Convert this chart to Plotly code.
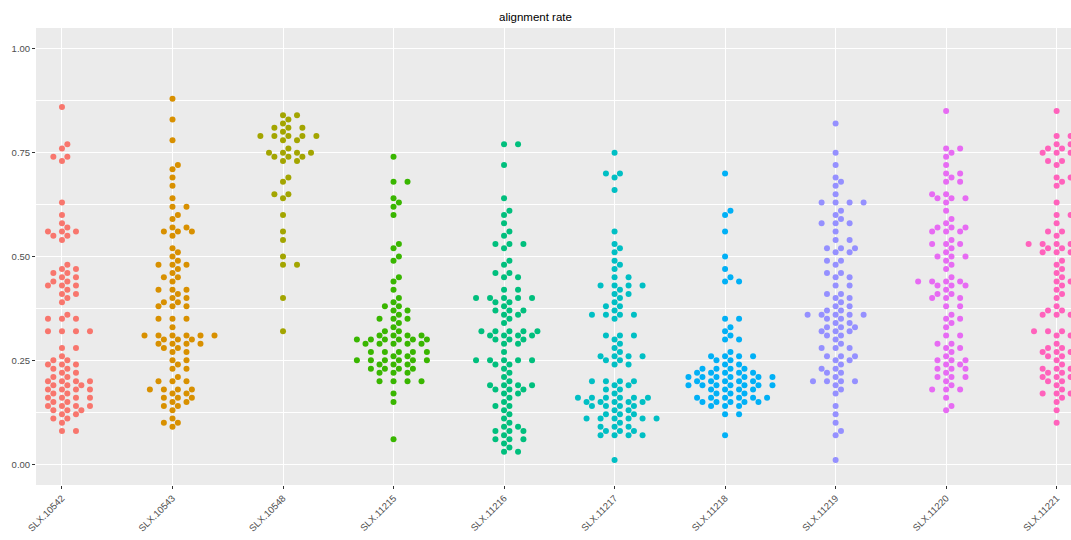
import numpy as np
import plotly.graph_objects as go

categories = ["SLX.10542", "SLX.10543", "SLX.10548", "SLX.11215", "SLX.11216",
              "SLX.11217", "SLX.11218", "SLX.11219", "SLX.11220", "SLX.11221"]
colors = ["#F8766D", "#D89000", "#A3A500", "#39B600", "#00BF7D",
          "#00BFC4", "#00B0F6", "#9590FF", "#E76BF3", "#FF62BC"]

slx_10542 = [0.86, 0.77, 0.76, 0.74, 0.74, 0.73, 0.63, 0.60, 0.58, 0.57, 0.56, 0.56, 0.56,
             0.55, 0.55, 0.54, 0.48, 0.47, 0.47, 0.46, 0.46, 0.45, 0.45, 0.44, 0.44,
             0.43, 0.43, 0.43, 0.42, 0.41, 0.41, 0.40, 0.39, 0.36, 0.35, 0.35, 0.35,
             0.32, 0.32, 0.32, 0.32, 0.28, 0.28, 0.26, 0.25, 0.25, 0.24, 0.24, 0.24,
             0.23, 0.23, 0.22, 0.22, 0.21, 0.21, 0.20, 0.20, 0.20, 0.20, 0.19, 0.19, 0.19,
             0.18, 0.18, 0.18, 0.18, 0.17, 0.17, 0.16, 0.16, 0.16, 0.16, 0.15, 0.15,
             0.14, 0.14, 0.14, 0.14, 0.13, 0.13, 0.13, 0.12, 0.12, 0.11, 0.11, 0.10,
             0.08, 0.08]
slx_10543 = [0.88, 0.83, 0.78, 0.72, 0.71, 0.69, 0.67, 0.64, 0.62, 0.62, 0.60, 0.59, 0.57,
             0.57, 0.56, 0.56, 0.56, 0.55, 0.52, 0.51, 0.50, 0.49, 0.48, 0.48, 0.48, 0.47,
             0.46, 0.45, 0.45, 0.44, 0.42, 0.42, 0.42, 0.41, 0.40, 0.40, 0.39, 0.39,
             0.38, 0.38, 0.38, 0.35, 0.35, 0.35, 0.33, 0.31, 0.31, 0.31, 0.31, 0.31, 0.31,
             0.30, 0.30, 0.30, 0.29, 0.29, 0.29, 0.29, 0.28, 0.28, 0.27, 0.27, 0.25, 0.25,
             0.24, 0.23, 0.23, 0.21, 0.20, 0.20, 0.20, 0.18, 0.18, 0.18, 0.18, 0.17, 0.17,
             0.16, 0.16, 0.16, 0.15, 0.15, 0.14, 0.14, 0.13, 0.11, 0.10, 0.10, 0.09]
slx_10548 = [0.84, 0.84, 0.83, 0.82, 0.81, 0.81, 0.81, 0.80, 0.79, 0.79, 0.79, 0.79, 0.79,
             0.78, 0.78, 0.76, 0.75, 0.75, 0.75, 0.75, 0.74, 0.74, 0.74, 0.73, 0.73,
             0.69, 0.68, 0.65, 0.65, 0.64, 0.60, 0.56, 0.54, 0.50, 0.48, 0.48, 0.40, 0.32]
slx_11215 = [0.74, 0.68, 0.68, 0.64, 0.63, 0.62, 0.60, 0.53, 0.52, 0.50, 0.49, 0.45, 0.44,
             0.42, 0.40, 0.39, 0.38, 0.38, 0.37, 0.37, 0.36, 0.35, 0.35, 0.35, 0.34, 0.33,
             0.32, 0.32, 0.31, 0.31, 0.31, 0.31, 0.30, 0.30, 0.30, 0.30, 0.30, 0.30,
             0.29, 0.29, 0.29, 0.29, 0.29, 0.27, 0.27, 0.27, 0.27, 0.27, 0.26, 0.26,
             0.25, 0.25, 0.25, 0.25, 0.25, 0.25, 0.24, 0.24, 0.24, 0.23, 0.23, 0.23, 0.23,
             0.22, 0.22, 0.22, 0.20, 0.20, 0.20, 0.20, 0.17, 0.15, 0.06]
slx_11216 = [0.77, 0.77, 0.72, 0.64, 0.61, 0.60, 0.58, 0.56, 0.55, 0.53, 0.53, 0.53, 0.52,
             0.49, 0.48, 0.46, 0.46, 0.45, 0.45, 0.42, 0.42, 0.40, 0.40, 0.40, 0.40, 0.40,
             0.39, 0.39, 0.38, 0.37, 0.37, 0.37, 0.36, 0.36, 0.35, 0.34, 0.32, 0.32, 0.32,
             0.32, 0.32, 0.31, 0.31, 0.31, 0.31, 0.30, 0.30, 0.30, 0.29, 0.29, 0.27,
             0.25, 0.25, 0.25, 0.25, 0.25, 0.24, 0.24, 0.23, 0.22, 0.21, 0.20, 0.19, 0.19,
             0.19, 0.19, 0.18, 0.18, 0.18, 0.17, 0.17, 0.16, 0.15, 0.14, 0.14, 0.13, 0.12,
             0.11, 0.10, 0.09, 0.09, 0.08, 0.08, 0.08, 0.07, 0.06, 0.06, 0.06, 0.05, 0.04,
             0.03, 0.03]
slx_11217 = [0.75, 0.70, 0.70, 0.69, 0.66, 0.56, 0.53, 0.52, 0.51, 0.49, 0.48, 0.47, 0.45,
             0.45, 0.43, 0.43, 0.43, 0.43, 0.42, 0.41, 0.41, 0.40, 0.39, 0.38, 0.38, 0.37,
             0.36, 0.36, 0.36, 0.36, 0.35, 0.31, 0.31, 0.31, 0.30, 0.29, 0.28, 0.27,
             0.26, 0.26, 0.26, 0.26, 0.25, 0.25, 0.24, 0.24, 0.20, 0.20, 0.20, 0.20,
             0.19, 0.19, 0.18, 0.18, 0.17, 0.16, 0.16, 0.16, 0.16, 0.16, 0.16, 0.15, 0.15,
             0.15, 0.15, 0.15, 0.14, 0.14, 0.14, 0.14, 0.13, 0.13, 0.12, 0.12, 0.12,
             0.11, 0.11, 0.11, 0.11, 0.11, 0.11, 0.10, 0.09, 0.09, 0.09, 0.08, 0.08, 0.08,
             0.07, 0.07, 0.07, 0.07, 0.01]
slx_11218 = [0.70, 0.61, 0.60, 0.56, 0.50, 0.47, 0.45, 0.44, 0.44, 0.35, 0.35, 0.33, 0.32,
             0.31, 0.30, 0.30, 0.27, 0.26, 0.26, 0.26, 0.26, 0.25, 0.25, 0.24, 0.24,
             0.23, 0.23, 0.23, 0.23, 0.22, 0.22, 0.22, 0.22, 0.22, 0.21, 0.21, 0.21, 0.21,
             0.21, 0.21, 0.21, 0.20, 0.20, 0.20, 0.20, 0.20, 0.19, 0.19, 0.19, 0.19, 0.19,
             0.19, 0.19, 0.18, 0.18, 0.18, 0.18, 0.17, 0.17, 0.17, 0.16, 0.16, 0.16, 0.16,
             0.16, 0.16, 0.15, 0.15, 0.15, 0.15, 0.15, 0.14, 0.14, 0.14, 0.12, 0.12, 0.07]
slx_11219 = [0.82, 0.75, 0.72, 0.69, 0.68, 0.67, 0.65, 0.63, 0.63, 0.63, 0.63, 0.61, 0.60,
             0.59, 0.58, 0.58, 0.58, 0.56, 0.54, 0.54, 0.52, 0.52, 0.52, 0.51, 0.51, 0.49,
             0.49, 0.48, 0.46, 0.46, 0.45, 0.45, 0.43, 0.43, 0.41, 0.41, 0.40, 0.40, 0.39,
             0.38, 0.38, 0.37, 0.37, 0.36, 0.36, 0.36, 0.36, 0.36, 0.35, 0.35, 0.34, 0.34,
             0.33, 0.33, 0.33, 0.32, 0.32, 0.32, 0.31, 0.31, 0.30, 0.29, 0.28, 0.28, 0.28,
             0.26, 0.26, 0.26, 0.25, 0.25, 0.24, 0.23, 0.23, 0.22, 0.22, 0.21, 0.20, 0.20,
             0.20, 0.20, 0.19, 0.18, 0.17, 0.14, 0.12, 0.10, 0.08, 0.07, 0.01]
slx_11220 = [0.85, 0.76, 0.76, 0.75, 0.74, 0.72, 0.70, 0.70, 0.69, 0.68, 0.68, 0.65, 0.65,
             0.64, 0.64, 0.64, 0.63, 0.61, 0.59, 0.58, 0.57, 0.57, 0.57, 0.56, 0.56, 0.56,
             0.54, 0.53, 0.53, 0.53, 0.52, 0.51, 0.50, 0.50, 0.50, 0.49, 0.48, 0.47, 0.45,
             0.44, 0.44, 0.44, 0.44, 0.43, 0.43, 0.43, 0.42, 0.41, 0.41, 0.40, 0.40, 0.40,
             0.38, 0.38, 0.36, 0.35, 0.35, 0.34, 0.33, 0.31, 0.31, 0.29, 0.29, 0.28, 0.28,
             0.27, 0.26, 0.25, 0.25, 0.25, 0.24, 0.24, 0.23, 0.23, 0.23, 0.22, 0.21, 0.21,
             0.21, 0.20, 0.19, 0.18, 0.18, 0.18, 0.16, 0.14, 0.13]
slx_11221 = [0.85, 0.79, 0.79, 0.77, 0.77, 0.76, 0.76, 0.75, 0.75, 0.75, 0.73, 0.73, 0.72,
             0.69, 0.69, 0.68, 0.67, 0.63, 0.60, 0.60, 0.58, 0.56, 0.56, 0.56, 0.55, 0.53,
             0.53, 0.53, 0.53, 0.52, 0.52, 0.51, 0.51, 0.51, 0.49, 0.48, 0.47, 0.46, 0.45,
             0.44, 0.44, 0.43, 0.42, 0.41, 0.40, 0.38, 0.37, 0.37, 0.37, 0.36, 0.36, 0.36,
             0.36, 0.32, 0.32, 0.32, 0.32, 0.31, 0.31, 0.29, 0.28, 0.28, 0.28, 0.27, 0.27,
             0.27, 0.27, 0.26, 0.26, 0.25, 0.24, 0.23, 0.23, 0.23, 0.22, 0.22, 0.22, 0.21,
             0.21, 0.21, 0.21, 0.20, 0.20, 0.19, 0.18, 0.17, 0.17, 0.17, 0.16, 0.15, 0.13,
             0.10]

groups = [slx_10542, slx_10543, slx_10548, slx_11215, slx_11216,
          slx_11217, slx_11218, slx_11219, slx_11220, slx_11221]

# geometry (pixels per data unit) used for the swarm layout
W, H = 1071, 540
M_L, M_R, M_T, M_B = 36, 0, 28, 55
X_RANGE = [-0.235, 9.13]
Y_RANGE = [-0.05, 1.05]
XPX = (W - M_L - M_R) / (X_RANGE[1] - X_RANGE[0])
YPX = (H - M_T - M_B) / (Y_RANGE[1] - Y_RANGE[0])
DIAM = 6.0
# spacing used by the swarm (computed for a different aspect, like ggbeeswarm)
SX, SY = 14.0, 4.5


def swarm_offsets(values):
    """Beeswarm (ascending priority): each point goes to the free x
    position closest to the centre line, in a scaled pixel space."""
    v = np.asarray(values, float)
    order = np.argsort(v, kind="stable")
    px, py = [], []
    offs = np.zeros(len(v))
    for idx in order:
        y = v[idx] * YPX / SY
        near = [(a, b) for a, b in zip(px, py) if abs(b - y) < 1.0]
        cands = [0.0]
        for a, b in near:
            dx = np.sqrt(max(1.0 - (b - y) ** 2, 0.0))
            cands += [a + dx, a - dx]
        cands.sort(key=lambda c: (abs(c), -c))
        chosen = 0.0
        for c in cands:
            if all((c - a) ** 2 + (y - b) ** 2 >= 1.0 - 1e-6 for a, b in near):
                chosen = c
                break
        px.append(chosen)
        py.append(y)
        offs[idx] = chosen * SX / XPX
    return offs


fig = go.Figure()
for i, (name, vals, col) in enumerate(zip(categories, groups, colors)):
    off = swarm_offsets(vals)
    fig.add_trace(go.Scatter(
        x=i + off, y=vals, mode="markers", name=name,
        marker=dict(color=col, size=DIAM, line=dict(width=0)),
        showlegend=False, cliponaxis=True,
    ))

fig.update_layout(
    width=W, height=H,
    margin=dict(l=M_L, r=M_R, t=M_T, b=M_B),
    paper_bgcolor="white", plot_bgcolor="#EBEBEB",
    font=dict(family="Liberation Sans, Arial, sans-serif", color="#4D4D4D", size=9.5),
    title=dict(text="alignment rate", x=0.5, xanchor="center", y=1 - 17 / H,
               yanchor="middle", font=dict(size=11.5, color="black")),
    xaxis=dict(
        range=X_RANGE, tickmode="array", tickvals=list(range(len(categories))),
        ticktext=categories, tickangle=-45, showgrid=True, gridcolor="white",
        gridwidth=1.1, zeroline=False, ticks="outside", ticklen=3,
        tickcolor="#333333", tickwidth=1, showline=False,
        tickfont=dict(size=9.5, color="#4D4D4D"),
    ),
    yaxis=dict(
        range=Y_RANGE, tickmode="array", tickvals=[0, 0.25, 0.5, 0.75, 1.0],
        ticktext=["0.00", "0.25", "0.50", "0.75", "1.00"],
        showgrid=True, gridcolor="white", gridwidth=1.1, zeroline=False,
        ticks="outside", ticklen=3, tickcolor="#333333", tickwidth=1,
        tickfont=dict(size=9.5, color="#4D4D4D"),
        minor=dict(tickvals=[0.125, 0.375, 0.625, 0.875], showgrid=True,
                   gridcolor="white", gridwidth=0.5, ticks=""),
    ),
)

fig.write_html("out.html")
